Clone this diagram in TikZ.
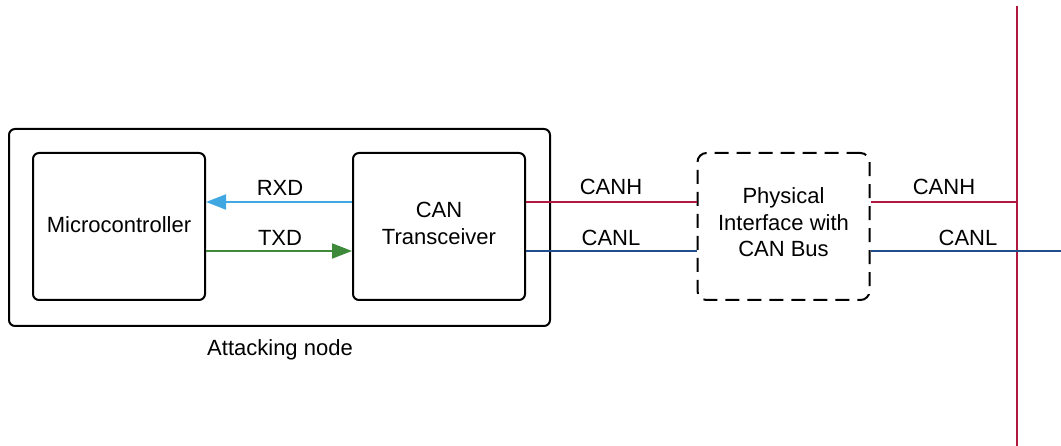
\documentclass[tikz,border=0pt]{standalone}
\usepackage{fontspec}
\setmainfont{Liberation Sans}
\usetikzlibrary{arrows.meta}
\definecolor{canred}{HTML}{B0183D}
\definecolor{canblue}{HTML}{1F4E8A}
\definecolor{rxblue}{HTML}{3FA7E1}
\definecolor{txgreen}{HTML}{3E8A3A}
\tikzset{
  blk/.style={draw=black, line width=2pt, rounded corners=6pt, fill=white,
    minimum width=172pt, minimum height=147pt, inner sep=0pt},
  lbl/.style={font=\fontsize{22}{26.5}\selectfont, inner sep=0pt, align=center},
  wire/.style={line width=2pt},
  tip/.style={-{Triangle[length=20pt,width=15pt]}}
}
\begin{document}
\begin{tikzpicture}[x=1pt,y=-1pt]
\useasboundingbox (0,0) rectangle (1061,446);
% enclosing node outline
\draw[line width=2pt, rounded corners=6pt] (9,129) rectangle (550,326);
\node[lbl] (attack) at (280,350) {Attacking node};
% blocks
\node[blk] (mcu) at (119,226.5) {};
\node[blk] (trx) at (439,226.5) {};
\node[blk, rounded corners=9pt, dash pattern=on 14pt off 8pt] (phy) at (783.5,226.5) {};
\node[lbl] (mcutext) at ([yshift=2pt]mcu.center) {Microcontroller};
\node[lbl] (trxtext) at ([yshift=3pt]trx.center) {CAN\\Transceiver};
\node[lbl] (phytext) at ([yshift=4pt]phy.center) {Physical\\Interface with\\CAN Bus};
% bus line
\coordinate (bustop) at (1017,6);
\coordinate (busbot) at (1017,446);
\coordinate (busH) at (1017,202);
\coordinate (busLend) at (1061,251);
\draw[wire, canred] (bustop) -- (busbot);
% signal lines
\draw[wire, rxblue, tip] (trx.west |- 0,202) -- (mcu.east |- 0,202);
\draw[wire, txgreen, tip] (mcu.east |- 0,251) -- (trx.west |- 0,251);
\node[lbl] (rxd) at (280,188) {RXD};
\node[lbl] (txd) at (280,238) {TXD};
% CAN wires
\draw[wire, canred] (trx.east |- 0,202) -- (phy.west |- 0,202);
\draw[wire, canblue] (trx.east |- 0,251) -- (phy.west |- 0,251);
\draw[wire, canred] (phy.east |- 0,202) -- (busH);
\draw[wire, canblue] (phy.east |- 0,251) -- (busLend);
\node[lbl] (canh1) at (611,187) {CANH};
\node[lbl] (canl1) at (611,238) {CANL};
\node[lbl] (canh2) at (944,187) {CANH};
\node[lbl] (canl2) at (968,238) {CANL};
\end{tikzpicture}
\end{document}
